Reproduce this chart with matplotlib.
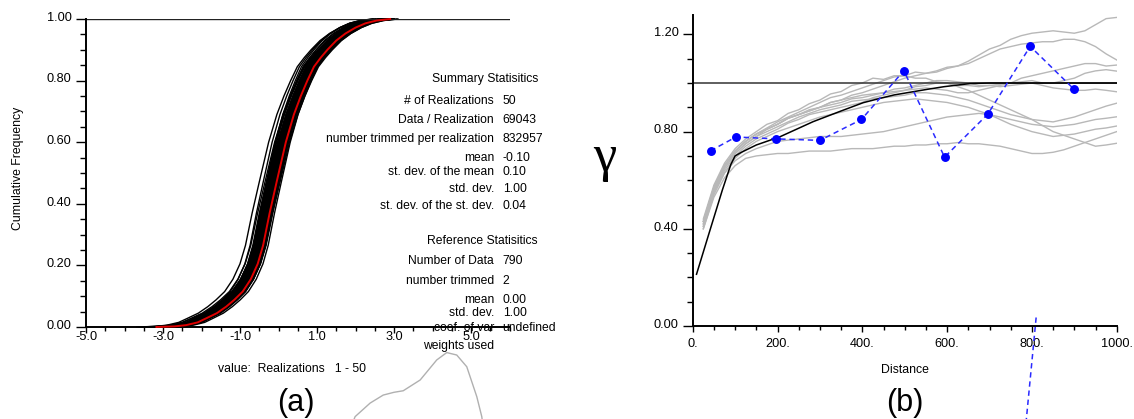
import numpy as np
import matplotlib.pyplot as plt
from matplotlib.ticker import FixedLocator
from matplotlib.transforms import ScaledTranslation

plt.rcParams['font.family'] = ['Liberation Sans', 'DejaVu Sans']

# ---- (a) cumulative distributions ----
# reference distribution (red)
ref_x = [-3.17, -2.70, -2.40, -2.10, -1.88, -1.60, -1.36, -1.15, -0.93, -0.72,
         -0.54, -0.40, -0.23, -0.05, 0.19, 0.40, 0.58, 0.75, 0.92, 1.10,
         1.27, 1.50, 1.74, 2.00, 2.26, 2.55, 2.90]
ref_cdf = [0.000, 0.002, 0.006, 0.015, 0.028, 0.045, 0.066, 0.088, 0.115, 0.155,
           0.205, 0.265, 0.370, 0.470, 0.600, 0.690, 0.750, 0.800, 0.845, 0.875,
           0.900, 0.930, 0.953, 0.972, 0.986, 0.995, 1.000]

# per-realization location shift and spread factor (50 realizations)
real_shift = [-0.45, -0.35, -0.30, -0.27, -0.25, -0.23, -0.22, -0.20, -0.19, -0.18,
              -0.17, -0.16, -0.15, -0.14, -0.13, -0.12, -0.12, -0.11, -0.10, -0.10,
              -0.09, -0.08, -0.08, -0.07, -0.06, -0.06, -0.05, -0.04, -0.03, -0.03,
              -0.02, -0.01, 0.00, 0.01, 0.02, 0.03, 0.04, 0.05, 0.07, 0.09,
              -0.26, -0.21, -0.16, -0.13, -0.09, -0.05, -0.02, 0.02, 0.06, 0.12]
real_scale = [1.02, 0.97, 1.05, 0.99, 1.01, 0.95, 1.03, 1.00, 0.98, 1.06,
              0.96, 1.02, 1.00, 1.04, 0.97, 0.99, 1.01, 1.07, 0.94, 1.03,
              1.00, 0.98, 1.02, 0.96, 1.05, 0.99, 1.01, 0.97, 1.03, 1.00,
              0.95, 1.04, 0.99, 1.02, 0.98, 1.06, 1.00, 0.97, 1.01, 1.03,
              0.93, 1.08, 0.99, 1.02, 0.96, 1.04, 1.00, 0.98, 1.01, 0.97]

# smoothed histogram trace that spills under the plot
hist_x = [1.93, 1.99, 2.38, 2.72, 3.00, 3.24, 3.68, 4.11, 4.37, 4.63, 4.89, 5.15, 5.28, 5.30]
hist_y = [-0.31, -0.291, -0.247, -0.221, -0.212, -0.207, -0.172, -0.107, -0.083,
          -0.091, -0.129, -0.226, -0.291, -0.31]

summary_labels = ['# of Realizations', 'Data / Realization', 'number trimmed per realization',
                  'mean', 'st. dev. of the mean', 'std. dev.', 'st. dev. of the st. dev.']
summary_values = ['50', '69043', '832957', '-0.10', '0.10', '1.00', '0.04']
ref_labels = ['Number of Data', 'number trimmed', 'mean', 'std. dev.', 'coef. of var', 'weights used']
ref_values = ['790', '2', '0.00', '1.00', 'undefined', '']

# ---- (b) variograms ----
exp_lag = [42, 102, 197, 300, 398, 498, 594, 696, 796, 899]
exp_gam = [0.721, 0.778, 0.770, 0.764, 0.850, 1.051, 0.695, 0.872, 1.151, 0.975]
stray_lag = [810, 786]
stray_gam = [0.035, -0.40]

model_h = [9, 40, 70, 90, 100, 115, 150, 206, 284, 350, 402, 442, 475, 553, 593, 655, 700, 1000]
model_g = [0.213, 0.39, 0.56, 0.665, 0.700, 0.715, 0.745, 0.779, 0.841, 0.885, 0.919,
           0.937, 0.951, 0.974, 0.985, 0.998, 1.0, 1.0]

# simulated-realization variograms, lags 25..1000 every 25
lags = list(range(25, 1001, 25))
sim1 = [.44, .58, .67, .73, .77, .80,
        .83, .845, .875, .89, .915, .93, .955, .965, .99, 1.00,
        1.02, 1.015, 1.03, 1.03, 1.045, 1.04, 1.05, 1.065, 1.07, 1.09,
        1.115, 1.14, 1.155, 1.18, 1.195, 1.205, 1.21, 1.215, 1.21, 1.205,
        1.215, 1.24, 1.265, 1.27]
sim2 = [.42, .56, .65, .71, .75, .78,
        .81, .83, .855, .87, .885, .90, .92, .93, .95, .96,
        .975, .99, 1.005, 1.02, 1.03, 1.04, 1.045, 1.06, 1.07, 1.08,
        1.10, 1.12, 1.14, 1.15, 1.16, 1.165, 1.17, 1.17, 1.18, 1.18,
        1.17, 1.15, 1.12, 1.095]
sim3 = [.43, .57, .66, .72, .76, .79,
        .815, .84, .86, .88, .90, .92, .94, .95, .965, .98,
        .995, 1.01, 1.025, 1.03, 1.02, 1.02, 1.005, 1.00, .99, .99,
        .985, .99, .995, 1.00, 1.02, 1.03, 1.04, 1.05, 1.06, 1.07,
        1.08, 1.08, 1.07, 1.074]
sim4 = [.41, .55, .64, .70, .74, .77,
        .79, .81, .835, .85, .87, .88, .89, .90, .91, .92,
        .94, .95, .96, .97, .975, .98, .975, .97, .96, .96,
        .97, .98, .99, 1.00, 1.005, 1.01, 1.00, 1.00, 1.01, 1.02,
        1.04, 1.05, 1.055, 1.049]
sim5 = [.43, .57, .66, .72, .76, .79,
        .81, .83, .855, .87, .885, .90, .91, .92, .935, .94,
        .95, .96, .975, .98, .99, 1.00, 1.01, 1.01, 1.005, 1.00,
        .99, .99, .985, .99, .995, 1.00, .99, .98, .975, .97,
        .97, .975, .97, .964]
sim6 = [.42, .56, .65, .71, .75, .78,
        .80, .82, .84, .86, .875, .89, .90, .91, .925, .93,
        .935, .94, .945, .95, .96, .96, .955, .95, .94, .93,
        .915, .90, .885, .87, .86, .85, .845, .84, .85, .86,
        .875, .89, .905, .917]
sim7 = [.43, .57, .66, .72, .76, .79,
        .81, .83, .855, .87, .89, .90, .92, .93, .94, .95,
        .955, .96, .965, .97, .985, .99, 1.00, 1.00, .985, .97,
        .95, .93, .91, .89, .87, .85, .825, .80, .785, .77,
        .755, .74, .745, .752]
sim8 = [.40, .54, .63, .69, .73, .76,
        .78, .80, .815, .83, .845, .86, .87, .88, .89, .90,
        .91, .92, .925, .93, .935, .93, .925, .92, .91, .90,
        .885, .87, .85, .83, .815, .80, .79, .78, .785, .79,
        .80, .81, .815, .823]
sim9 = [.41, .55, .63, .68, .71, .73,
        .745, .76, .765, .77, .775, .78, .78, .78, .785, .79,
        .795, .80, .81, .82, .83, .84, .85, .86, .865, .87,
        .875, .87, .86, .85, .84, .83, .825, .82, .825, .83,
        .84, .85, .855, .861]
sim10 = [.40, .53, .61, .66, .69, .70,
         .705, .71, .71, .715, .72, .72, .72, .725, .73, .73,
         .73, .735, .74, .74, .745, .745, .75, .75, .755, .75,
         .75, .745, .74, .73, .72, .71, .71, .715, .725, .74,
         .755, .77, .785, .80]
sims = [sim1, sim2, sim3, sim4, sim5, sim6, sim7, sim8, sim9, sim10]

W, H = 1134, 419
fig = plt.figure(figsize=(W / 100, H / 100), dpi=100)


def px(x, y):
    return x / W, 1 - y / H


def style_axes(ax, ylab_shift):
    for s in ['top', 'right']:
        ax.spines[s].set_visible(False)
    for s in ['left', 'bottom']:
        ax.spines[s].set_linewidth(1.4)
    ax.tick_params(axis='y', which='major', direction='out', length=7.2, width=1.0,
                   pad=3.1, labelsize=9.2)
    ax.tick_params(axis='y', which='minor', direction='out', length=4, width=1.0)
    for lbl in ax.get_yticklabels():
        lbl.set_transform(lbl.get_transform() + ScaledTranslation(0, ylab_shift / 72, fig.dpi_scale_trans))


# ---------------- panel (a) ----------------
axa = fig.add_axes([86 / W, 1 - 327 / H, (509.5 - 86) / W, (327 - 19) / H])
axa.set_xlim(-5, 6)
axa.set_ylim(0, 1)
rx = np.array(ref_x)
for sh, sc in zip(real_shift, real_scale):
    axa.plot(rx * sc + sh, ref_cdf, color='black', lw=1.0, clip_on=False)
axa.plot(ref_x, ref_cdf, color='#e00000', lw=1.4, zorder=5, clip_on=False)
axa.axhline(1.0, color='#222222', lw=1.0)
axa.plot(hist_x, hist_y, color='#b0b0b0', lw=1.0, clip_on=False)

axa.xaxis.set_major_locator(FixedLocator([-5, -3, -1, 1, 3, 5]))
axa.xaxis.set_minor_locator(FixedLocator(np.arange(-5, 6.01, 0.5)))
axa.yaxis.set_major_locator(FixedLocator([0, 0.2, 0.4, 0.6, 0.8, 1.0]))
axa.yaxis.set_minor_locator(FixedLocator(np.arange(0, 1.001, 0.05)))
axa.set_xticklabels(['-5.0', '-3.0', '-1.0', '1.0', '3.0', '5.0'])
axa.set_yticklabels(['0.00', '0.20', '0.40', '0.60', '0.80', '1.00'])
axa.tick_params(axis='x', which='major', direction='out', length=4.3, width=1.0,
                pad=-1.2, labelsize=9.2)
axa.tick_params(axis='x', which='minor', direction='out', length=2.9, width=1.0)
style_axes(axa, 2.0)

fig.text(*px(18, 168), 'Cumulative Frequency', rotation=90, ha='center', va='center', fontsize=8.8)
fig.text(*px(218, 369), 'value:  Realizations   1 - 50', ha='left', va='center', fontsize=8.8)
fig.text(*px(296, 403), '(a)', ha='center', va='center', fontsize=22)

# statistics block
fs = 8.7
fig.text(*px(538, 79.3), 'Summary Statisitics', ha='right', va='center', fontsize=fs)
sum_rows = [100.7, 120, 139, 158.3, 171.7, 189.3, 205.7]
for yy, lab, val in zip(sum_rows, summary_labels, summary_values):
    fig.text(*px(494, yy), lab, ha='right', va='center', fontsize=fs)
    fig.text(*px(502.7, yy), val, ha='left', va='center', fontsize=fs)
fig.text(*px(538, 240.7), 'Reference Statisitics', ha='right', va='center', fontsize=fs)
ref_rows = [261, 280.7, 300, 313.3, 327.7, 346]
for yy, lab, val in zip(ref_rows, ref_labels, ref_values):
    fig.text(*px(494, yy), lab, ha='right', va='center', fontsize=fs)
    if val:
        fig.text(*px(502.7, yy), val, ha='left', va='center', fontsize=fs)

# ---------------- panel (b) ----------------
axb = fig.add_axes([692.7 / W, 1 - 326 / H, 424 / W, (326 - 15) / H])
axb.set_xlim(0, 1000)
axb.set_ylim(0, 1.28)
for g in sims:
    axb.plot(lags, g, color='#b8b8b8', lw=1.0)
axb.axhline(1.0, color='#333333', lw=1.1)
axb.plot(model_h, model_g, color='black', lw=1.1)
axb.plot(exp_lag, exp_gam, color='#2a2aff', lw=1.1, ls=(0, (3.5, 2.5)),
         marker='o', ms=5.4, mfc='#0000ff', mec='#0000ff', zorder=6)
axb.plot(stray_lag, stray_gam, color='#2a2aff', lw=1.1, ls=(0, (3.5, 2.5)), clip_on=False)

axb.xaxis.set_major_locator(FixedLocator([0, 200, 400, 600, 800, 1000]))
axb.xaxis.set_minor_locator(FixedLocator(np.arange(0, 1001, 50)))
axb.yaxis.set_major_locator(FixedLocator([0, 0.4, 0.8, 1.2]))
axb.yaxis.set_minor_locator(FixedLocator(np.arange(0, 1.25, 0.1)))
axb.set_xticklabels(['0.', '200.', '400.', '600.', '800.', '1000.'])
axb.set_yticklabels(['0.00', '0.40', '0.80', '1.20'])
axb.tick_params(axis='x', which='major', direction='out', length=4.3, width=1.0,
                pad=4.6, labelsize=9.2)
axb.tick_params(axis='x', which='minor', direction='out', length=2.9, width=1.0)
style_axes(axb, 2.0)

fig.text(*px(605, 158), 'γ', ha='center', va='center', fontsize=38, family=['Liberation Serif', 'DejaVu Serif'])
fig.text(*px(905, 370), 'Distance', ha='center', va='center', fontsize=8.8)
fig.text(*px(905, 403), '(b)', ha='center', va='center', fontsize=22)

fig.savefig('out.png', dpi=100)
